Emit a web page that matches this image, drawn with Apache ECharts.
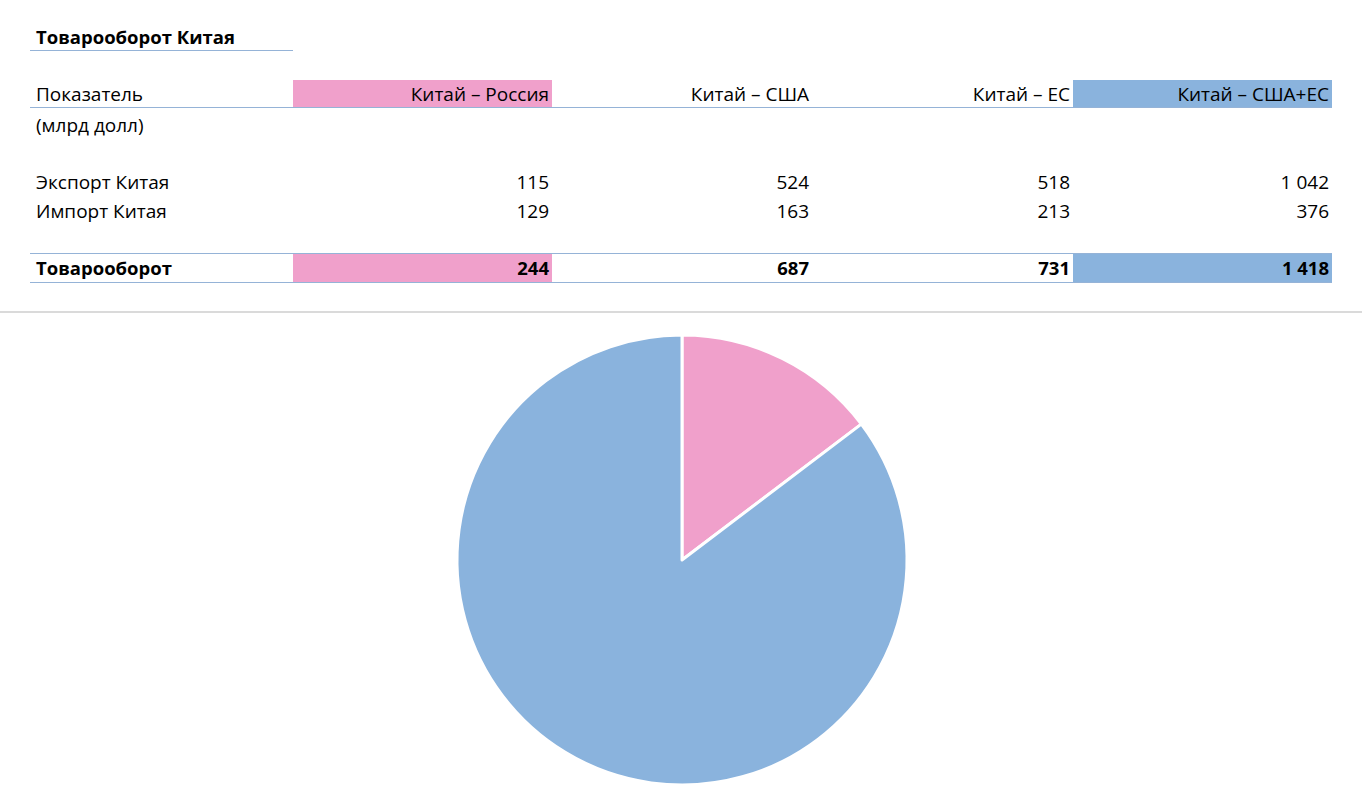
<!DOCTYPE html>
<html>
<head>
<meta charset="utf-8">
<script src="https://cdn.jsdelivr.net/npm/echarts@6/dist/echarts.min.js"></script>
<style>
  body { margin: 0; background: #fff; font-family: "Open Sans", sans-serif; font-size: 19px; color: #000; }
  #page { position: relative; width: 1362px; height: 805px; overflow: hidden; }
  .row { position: absolute; left: 30px; height: 28px; line-height: 28px; display: flex; }
  .cell { height: 28px; box-sizing: border-box; white-space: nowrap; }
  .c0 { width: 263px; padding-left: 6px; }
  .num { text-align: right; padding-right: 3px; }
  .bold { font-weight: bold; font-size: 18.5px; }
  .line { position: absolute; height: 1px; background: #95b3d7; }
  #divider { position: absolute; left: 0; top: 311px; width: 1362px; height: 2px; background: #dadada; }
  #chart { position: absolute; left: 0; top: 313px; width: 1362px; height: 492px; }
</style>
</head>
<body>
<div id="page">
  <div id="table"></div>
  <div id="divider"></div>
  <div id="chart"></div>
</div>
<script>
const title = "Товарооборот Китая";
const indicatorLabel = "Показатель";
const unitsLabel = "(млрд долл)";
const columns = ["Китай – Россия", "Китай – США", "Китай – ЕС", "Китай – США+ЕС"];
const exportValues = [115, 524, 518, 1042];
const importValues = [129, 163, 213, 376];
const totalValues = [244, 687, 731, 1418];
const rowLabels = ["Экспорт Китая", "Импорт Китая", "Товарооборот"];

// pie: China-Russia vs China-USA+EU
const pieNames = [columns[0], columns[3]];
const pieValues = [totalValues[0], totalValues[3]];
const pieColors = ["#f0a0cb", "#8ab3dd"];

const colWidths = [259, 260, 261, 259];
const highlight = { 0: pieColors[0], 3: pieColors[1] };

function fmt(v) {
  return String(v).replace(/\B(?=(\d{3})+(?!\d))/g, " ");
}

function makeRow(top, label, values, opts) {
  opts = opts || {};
  const row = document.createElement("div");
  row.className = "row" + (opts.bold ? " bold" : "");
  row.style.top = top + "px";
  let html = '<div class="cell c0">' + label + "</div>";
  values.forEach((v, i) => {
    const bg = opts.colored && highlight[i] ? "background:" + highlight[i] + ";" : "";
    html += '<div class="cell num" style="width:' + colWidths[i] + "px;" + bg + '">' +
      (typeof v === "number" ? fmt(v) : v) + "</div>";
  });
  row.innerHTML = html;
  document.getElementById("table").appendChild(row);
}

function makeLine(left, top, width) {
  const l = document.createElement("div");
  l.className = "line";
  l.style.left = left + "px";
  l.style.top = top + "px";
  l.style.width = width + "px";
  document.getElementById("table").appendChild(l);
}

makeRow(23, title, [], { bold: true });
makeLine(30, 50, 263);
makeRow(80, indicatorLabel, columns, { colored: true });
makeLine(30, 107, 1302);
makeRow(111, unitsLabel, []);
makeRow(168, rowLabels[0], exportValues);
makeRow(197, rowLabels[1], importValues);
makeLine(30, 253, 1302);
makeRow(254, rowLabels[2], totalValues, { bold: true, colored: true });
makeLine(30, 282, 1302);

const chart = echarts.init(document.getElementById("chart"));
chart.setOption({
  animation: false,
  series: [
    {
      type: "pie",
      center: [682, 247],
      radius: 225,
      startAngle: 90,
      clockwise: true,
      label: { show: false },
      labelLine: { show: false },
      itemStyle: { borderColor: "#fff", borderWidth: 3 },
      data: pieNames.map((name, i) => ({
        name: name,
        value: pieValues[i],
        itemStyle: { color: pieColors[i] },
      })),
    },
  ],
});
</script>
</body>
</html>
